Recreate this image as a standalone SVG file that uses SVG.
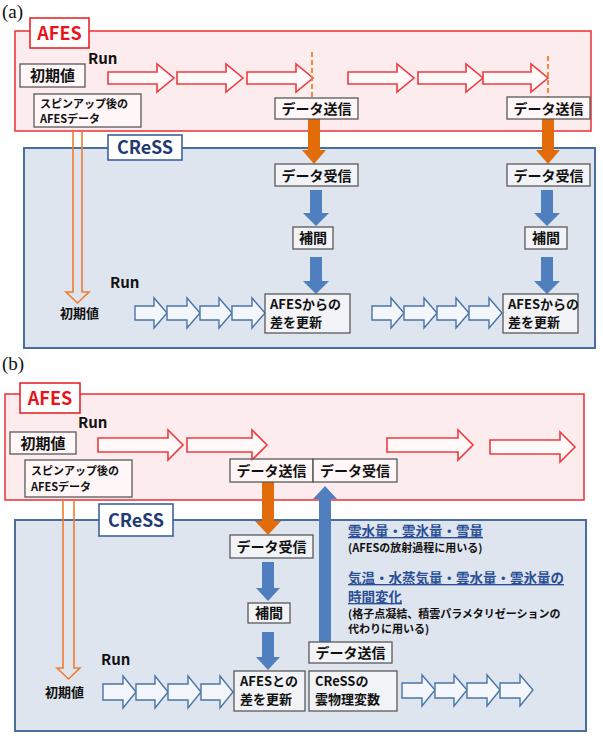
<svg xmlns="http://www.w3.org/2000/svg" width="603" height="740" viewBox="0 0 603 740">
<style>
text{font-family:"Noto Sans CJK JP","Noto Sans",sans-serif;fill:#111}
.pl{font-family:"Liberation Serif",serif;font-size:19px}
.afesOuter{fill:#fdeced;stroke:#ee3b3f;stroke-width:1.6}
.cressOuter{fill:#dfe5ee;stroke:#4a6e9c;stroke-width:2}
.afesLbl{fill:#fff;stroke:#e8262c;stroke-width:1.6}
.cressLbl{fill:#fff;stroke:#3d62a0;stroke-width:1.6}
.afesTxt{font-size:18px;font-weight:bold;fill:#e8141c;text-anchor:middle}
.cressTxt{font-size:18px;font-weight:bold;fill:#1f3b73;text-anchor:middle}
.box{fill:#ffffff;fill-opacity:0.55;stroke:#595959;stroke-width:1.3}
.t14{font-size:14px;font-weight:bold;text-anchor:middle}
.t13{font-size:13px;font-weight:bold}
.t11{font-size:11px;font-weight:bold}
.run{font-size:15px;font-weight:bold}
.ra{fill:#fff;fill-opacity:0.7;stroke:#ee3b3f;stroke-width:1.6}
.ba{fill:#f3f6fa;stroke:#4a74a8;stroke-width:1.4}
.oh{fill:none;stroke:#ed7d31;stroke-width:1.6}
.os{fill:#e36c0a}
.bs{fill:#4f7fbe}
.dash{stroke:#e8822e;stroke-width:1.8;stroke-dasharray:5 3}
.info{font-size:13.5px;font-weight:bold;fill:#2a4f96;text-decoration:underline}
.note{font-size:11px;font-weight:bold}
</style>

<text class="pl" x="2" y="18">(a)</text>
<text class="pl" x="2" y="370">(b)</text>

<!-- Panel a containers -->
<g id="a-afes">
<rect class="afesOuter" x="15" y="31" width="576" height="100"/>
<rect class="afesLbl" x="30" y="18" width="59" height="30"/>
<text class="afesTxt" x="59.5" y="40">AFES</text>
</g>
<g id="a-cress">
<rect class="cressOuter" x="24" y="148" width="571" height="200"/>
<rect class="cressLbl" x="108" y="135" width="74" height="25"/>
<text class="cressTxt" x="145" y="154">CReSS</text>
</g>

<!-- Panel b containers -->
<g id="b-afes">
<rect class="afesOuter" x="5" y="394" width="579" height="106"/>
<rect class="afesLbl" x="20" y="383" width="60" height="30"/>
<text class="afesTxt" x="50" y="405">AFES</text>
</g>
<g id="b-cress">
<rect class="cressOuter" x="15" y="520" width="571" height="211"/>
<rect class="cressLbl" x="99" y="504" width="74" height="32"/>
<text class="cressTxt" x="136" y="527">CReSS</text>
</g>

<!-- Connectors -->
<g id="connectors">
<path class="ra" d="M108,72H157V64L174,78L157,92V84H108Z"/>
<path class="ra" d="M177,72H226V64L243,78L226,92V84H177Z"/>
<path class="ra" d="M247,72H296V64L313,78L296,92V84H247Z"/>
<path class="ra" d="M348,72H397V64L414,78L397,92V84H348Z"/>
<path class="ra" d="M418,72H466V64L483,78L466,92V84H418Z"/>
<path class="ra" d="M483,72H531V64L548,78L531,92V84H483Z"/>
<line class="dash" x1="312" y1="52" x2="312" y2="98"/>
<line class="dash" x1="548" y1="56" x2="548" y2="98"/>
<path class="oh" d="M73,131V292H66L77.5,303L89,292H82V131"/>
<path class="os" d="M308,119H320V150H326L314,164L302,150H308Z"/>
<path class="os" d="M542,119H554V150H560L548,164L536,150H542Z"/>
<path class="bs" d="M310,190H322V213H329L316,226L303,213H310Z"/>
<path class="bs" d="M310,257H322V281H329L316,294L303,281H310Z"/>
<path class="bs" d="M541,190H553V213H560L547,226L534,213H541Z"/>
<path class="bs" d="M541,257H553V281H560L547,294L534,281H541Z"/>
<path class="ba" d="M135,306H154V298L167,313L154,328V320H135Z"/>
<path class="ba" d="M167,306H187V298L200,313L187,328V320H167Z"/>
<path class="ba" d="M200,306H219V298L232,313L219,328V320H200Z"/>
<path class="ba" d="M232,306H252V298L265,313L252,328V320H232Z"/>
<path class="ba" d="M372,306H391V298L404,313L391,328V320H372Z"/>
<path class="ba" d="M404,306H424V298L437,313L424,328V320H404Z"/>
<path class="ba" d="M437,306H456V298L469,313L456,328V320H437Z"/>
<path class="ba" d="M469,306H489V298L502,313L489,328V320H469Z"/>

<path class="ra" d="M98,438H168V430L183,445L168,460V452H98Z"/>
<path class="ra" d="M187,438H252V430L267,445L252,460V452H187Z"/>
<path class="ra" d="M387,438H458V430L473,445L458,460V452H387Z"/>
<path class="ra" d="M490,440H560V432L575,447L560,462V454H490Z"/>
<path class="oh" d="M63,500V668H57L68.5,679L80,668H74V500"/>
<path class="os" d="M262,482H274V521H281L268,535L255,521H262Z"/>
<path class="bs" d="M319,642V499H313L325,486L337,499H331V642Z"/>
<path class="bs" d="M262,562H274V588H280L268,601L256,588H262Z"/>
<path class="bs" d="M262,632H274V657H280L268,670L256,657H262Z"/>
<path class="ba" d="M103,684H123V676L136,692L123,708V700H103Z"/>
<path class="ba" d="M136,684H155V676L168,692L155,708V700H136Z"/>
<path class="ba" d="M168,684H188V676L201,692L188,708V700H168Z"/>
<path class="ba" d="M201,684H220V676L233,692L220,708V700H201Z"/>
<path class="ba" d="M402,683H422V675L435,690L422,706V698H402Z"/>
<path class="ba" d="M435,683H454V675L467,690L454,706V698H435Z"/>
<path class="ba" d="M467,683H487V675L500,690L487,706V698H467Z"/>
<path class="ba" d="M500,683H520V675L533,690L520,706V698H500Z"/>
</g>

<!-- Panel a nodes -->
<text class="run" x="88" y="64">Run</text>
<g id="a-init"><rect class="box" x="20" y="64" width="65" height="23"/><text class="t14" x="52.5" y="81" style="font-size:15px">初期値</text></g>
<g id="a-spinup"><rect class="box" x="34" y="94" width="107" height="33"/><text class="t11" x="40" y="108">スピンアップ後の</text><text class="t11" x="40" y="123">AFESデータ</text></g>
<g id="a-send1"><rect class="box" x="275" y="98" width="83" height="21"/><text class="t14" x="316.5" y="114">データ送信</text></g>
<g id="a-send2"><rect class="box" x="507" y="97" width="83" height="22"/><text class="t14" x="548.5" y="113.5">データ送信</text></g>
<g id="a-recv1"><rect class="box" x="275" y="164" width="83" height="22"/><text class="t14" x="316.5" y="180.5">データ受信</text></g>
<g id="a-recv2"><rect class="box" x="507" y="164" width="83" height="22"/><text class="t14" x="548.5" y="180.5">データ受信</text></g>
<g id="a-interp1"><rect class="box" x="293" y="227" width="40" height="22"/><text class="t14" x="313" y="243">補間</text></g>
<g id="a-interp2"><rect class="box" x="525" y="227" width="42" height="22"/><text class="t14" x="546" y="243">補間</text></g>
<g id="a-update1"><rect class="box" x="265" y="294" width="85" height="39"/><text class="t13" x="270" y="309">AFESからの</text><text class="t13" x="270" y="327">差を更新</text></g>
<g id="a-update2"><rect class="box" x="503" y="294" width="75" height="39"/><text class="t13" x="508" y="309">AFESからの</text><text class="t13" x="508" y="327">差を更新</text></g>
<text class="run" x="110" y="288">Run</text>
<g id="a-cinit"><text class="t13" x="60" y="318">初期値</text></g>

<!-- Panel b nodes -->
<text class="run" x="78" y="428">Run</text>
<g id="b-init"><rect class="box" x="10" y="432" width="66" height="22"/><text class="t14" x="43" y="449" style="font-size:15px">初期値</text></g>
<g id="b-spinup"><rect class="box" x="25" y="460" width="107" height="37"/><text class="t11" x="31" y="475">スピンアップ後の</text><text class="t11" x="31" y="491">AFESデータ</text></g>
<g id="b-send"><rect class="box" x="230" y="459" width="83" height="23"/><text class="t14" x="271.5" y="476">データ送信</text></g>
<g id="b-recvA"><rect class="box" x="313" y="459" width="84" height="23"/><text class="t14" x="355" y="476">データ受信</text></g>
<g id="b-recv"><rect class="box" x="230" y="535" width="83" height="23"/><text class="t14" x="271.5" y="552">データ受信</text></g>
<g id="b-interp"><rect class="box" x="248" y="603" width="42" height="20"/><text class="t14" x="269" y="618">補間</text></g>
<g id="b-sendC"><rect class="box" x="309" y="642" width="83" height="21"/><text class="t14" x="350.5" y="658">データ送信</text></g>
<g id="b-update"><rect class="box" x="234" y="671" width="71" height="40"/><text class="t13" x="240" y="686">AFESとの</text><text class="t13" x="240" y="704">差を更新</text></g>
<g id="b-cloud"><rect class="box" x="309" y="671" width="88" height="40"/><text class="t13" x="315" y="686">CReSSの</text><text class="t13" x="315" y="704">雲物理変数</text></g>
<text class="run" x="101" y="665">Run</text>
<g id="b-cinit"><text class="t13" x="45" y="697">初期値</text></g>
<g id="b-info">
<text class="info" x="348" y="536">雲水量・雲氷量・雪量</text>
<text class="note" x="348" y="552">(AFESの放射過程に用いる)</text>
<text class="info" x="348" y="583">気温・水蒸気量・雲水量・雲氷量の</text>
<text class="info" x="348" y="602">時間変化</text>
<text class="note" x="348" y="618">(格子点凝結、積雲パラメタリゼーションの</text>
<text class="note" x="348" y="633">代わりに用いる)</text>
</g>
</svg>
